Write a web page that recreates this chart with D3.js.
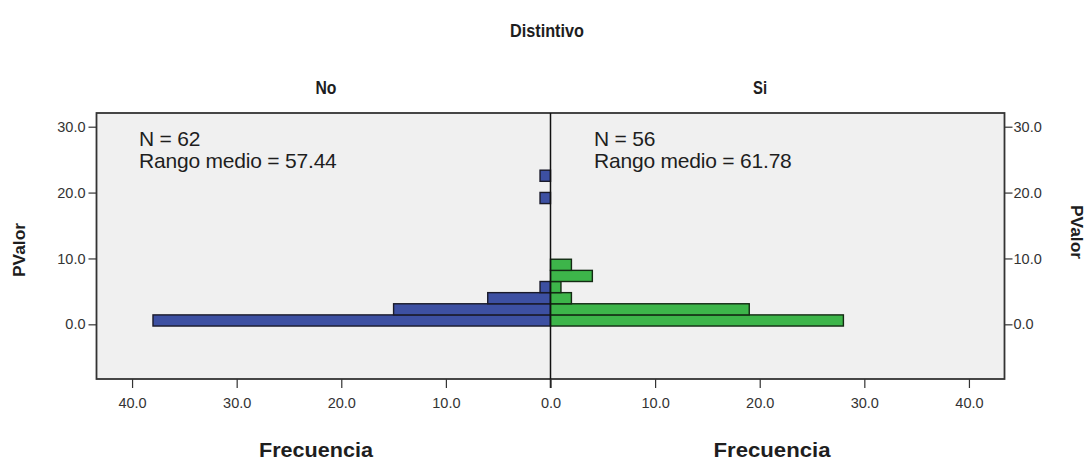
<!DOCTYPE html>
<html>
<head>
<meta charset="utf-8">
<script src="https://cdn.jsdelivr.net/npm/d3@7"></script>
<style>
  html, body { margin: 0; padding: 0; background: #ffffff; }
  svg { display: block; }
  .reg { font-family: "Liberation Sans", Arial, sans-serif; }
  .axis path { display: none; }
  .axis line { stroke: #333; stroke-width: 1.2; }
  .axis text { fill: #333; font-size: 14.5px; }
</style>
</head>
<body>
<svg id="chart" width="1086" height="461"></svg>
<script>
// ---- data ----
const groups = ["No", "Si"];
const nValues = [62, 56];
const meanRanks = [57.44, 61.78];
const binLower = [-0.26, 1.43, 3.12, 4.81, 6.50, 8.19, 18.33, 21.71];
const binUpper = [1.43, 3.12, 4.81, 6.50, 8.19, 9.88, 20.02, 23.40];
const freqNo = [38, 15, 6, 1, 0, 0, 1, 1];
const freqSi = [28, 19, 2, 1, 4, 2, 0, 0];
const xTicks = [0, 10, 20, 30, 40];
const yTicks = [0, 10, 20, 30];
const title = "Distintivo";
const yLabel = "PValor";
const xLabel = "Frecuencia";

// ---- layout ----
const svg = d3.select("#chart");
const frame = { left: 96.5, right: 1004.5, top: 113, bottom: 379 };
const center = 550.5;
const xMax = 43.4;

const xLeft = d3.scaleLinear().domain([0, xMax]).range([center, frame.left]);
const xRight = d3.scaleLinear().domain([0, xMax]).range([center, frame.right]);
const y = d3.scaleLinear().domain([-8.3, 32.08]).range([frame.bottom, frame.top]);
const fmt = d3.format(".1f");

// plot background
svg.append("rect")
  .attr("x", frame.left).attr("y", frame.top)
  .attr("width", frame.right - frame.left).attr("height", frame.bottom - frame.top)
  .attr("fill", "#f0f0f0");

// bars
const dataNo = binLower.map((lo, i) => ({ lo, hi: binUpper[i], f: freqNo[i] })).filter(d => d.f > 0);
const dataSi = binLower.map((lo, i) => ({ lo, hi: binUpper[i], f: freqSi[i] })).filter(d => d.f > 0);

svg.append("g").selectAll("rect").data(dataNo).join("rect")
  .attr("x", d => xLeft(d.f))
  .attr("y", d => y(d.hi))
  .attr("width", d => xLeft(0) - xLeft(d.f))
  .attr("height", d => y(d.lo) - y(d.hi))
  .attr("fill", "#3d50a2")
  .attr("stroke", "#1a1a2a")
  .attr("stroke-width", 1.4);

svg.append("g").selectAll("rect").data(dataSi).join("rect")
  .attr("x", xRight(0))
  .attr("y", d => y(d.hi))
  .attr("width", d => xRight(d.f) - xRight(0))
  .attr("height", d => y(d.lo) - y(d.hi))
  .attr("fill", "#3db54a")
  .attr("stroke", "#132a13")
  .attr("stroke-width", 1.4);

// frame border
svg.append("rect")
  .attr("x", frame.left).attr("y", frame.top)
  .attr("width", frame.right - frame.left).attr("height", frame.bottom - frame.top)
  .attr("fill", "none").attr("stroke", "#333").attr("stroke-width", 1.8);

// center line
svg.append("line")
  .attr("x1", center).attr("x2", center)
  .attr("y1", frame.top).attr("y2", frame.bottom + 9)
  .attr("stroke", "#111").attr("stroke-width", 1.5);

// axes
svg.append("g").attr("class", "axis reg")
  .attr("transform", `translate(0,${frame.bottom})`)
  .call(d3.axisBottom(xLeft).tickValues(xTicks).tickFormat(fmt).tickSize(9).tickPadding(10));
svg.append("g").attr("class", "axis reg")
  .attr("transform", `translate(0,${frame.bottom})`)
  .call(d3.axisBottom(xRight).tickValues(xTicks.filter(d => d > 0)).tickFormat(fmt).tickSize(9).tickPadding(10));
svg.append("g").attr("class", "axis reg")
  .attr("transform", `translate(${frame.left},0)`)
  .call(d3.axisLeft(y).tickValues(yTicks).tickFormat(fmt).tickSize(8).tickPadding(3));
svg.append("g").attr("class", "axis reg")
  .attr("transform", `translate(${frame.right},0)`)
  .call(d3.axisRight(y).tickValues(yTicks).tickFormat(fmt).tickSize(8).tickPadding(1));

// titles (condensed look via textLength)
const boldText = (x, yy, txt, size, len, rot) => {
  const t = svg.append("text")
    .attr("class", "reg")
    .attr("text-anchor", "middle")
    .attr("font-weight", "bold")
    .attr("font-size", size)
    .attr("fill", "#1e1e1e")
    .attr("textLength", len)
    .attr("lengthAdjust", "spacingAndGlyphs")
    .text(txt);
  if (rot) t.attr("x", 0).attr("y", 0).attr("transform", `translate(${x},${yy}) rotate(${rot})`);
  else t.attr("x", x).attr("y", yy);
  return t;
};
boldText(547, 37, title, 18, 74);
const groupX = [326, 760];
const groupLen = [21, 14];
groups.forEach((g, i) => boldText(groupX[i], 94, g, 18, groupLen[i]));
boldText(316, 457, xLabel, 20, 114);
boldText(772, 457, xLabel, 20, 117);
boldText(25, 250, yLabel, 17, 54, -90);
boldText(1071, 232, yLabel, 17, 54, 90);

// annotations
const annX = [139, 594];
groups.forEach((g, i) => {
  const t = svg.append("text").attr("class", "reg")
    .attr("font-size", 21).attr("fill", "#1e1e1e")
    .attr("letter-spacing", -0.2);
  t.append("tspan").attr("x", annX[i]).attr("y", 146).text(`N = ${nValues[i]}`);
  t.append("tspan").attr("x", annX[i]).attr("y", 168).text(`Rango medio = ${meanRanks[i].toFixed(2)}`);
});
</script>
</body>
</html>
